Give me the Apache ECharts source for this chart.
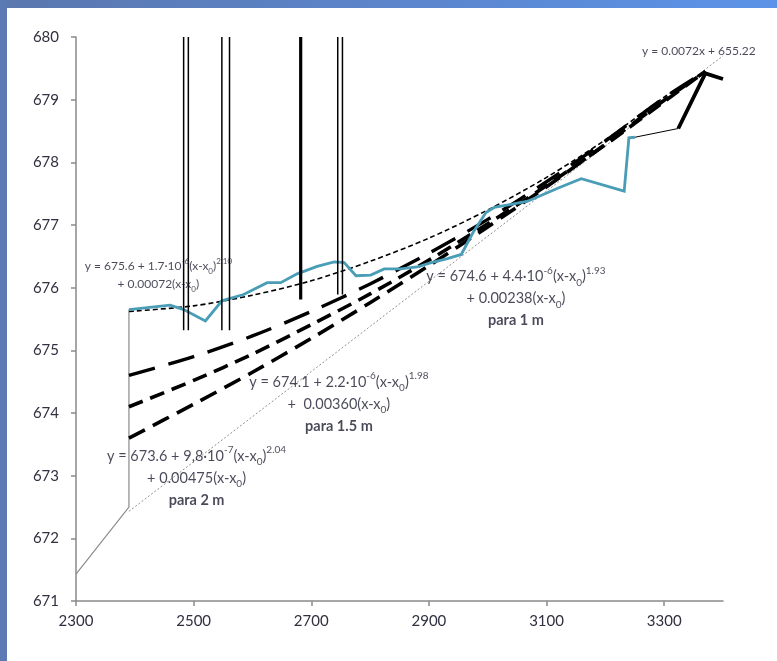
<!DOCTYPE html>
<html>
<head>
<meta charset="utf-8">
<script src="https://cdn.jsdelivr.net/npm/echarts@6/dist/echarts.min.js"></script>
<style>
html,body{margin:0;padding:0;background:#fff;}
#wrap{position:relative;width:777px;height:661px;overflow:hidden;background:#fff;}
#topbar{position:absolute;left:0;top:0;width:777px;height:8px;background:linear-gradient(to right,#5b77ae,#5c93e8);}
#leftbar{position:absolute;left:0;top:0;width:7px;height:661px;background:#5b79b2;}
#chart{position:absolute;left:0;top:0;width:777px;height:661px;}
</style>
</head>
<body>
<div id="wrap"><div id="topbar"></div><div id="leftbar"></div><div id="chart"></div></div>
<script>
// ---- data ----
const xTickValues = [2300, 2500, 2700, 2900, 3100, 3300];
const yMin = 671, yMax = 680;

const terrain = [
  [2390,675.65],[2460,675.72],[2483,675.65],[2520,675.47],[2548,675.79],[2585,675.89],
  [2625,676.08],[2648,676.08],[2676,676.22],[2710,676.34],[2739,676.41],[2756,676.40],
  [2776,676.19],[2801,676.20],[2824,676.30],[2852,676.30],[2880,676.33],[2904,676.40],
  [2930,676.46],[2955,676.53],[2975,676.88],[2997,677.20],[3011,677.28],[3040,677.33],
  [3068,677.38],[3120,677.59],[3159,677.74],[3232,677.54],[3240,678.39],[3250,678.40]
];
const terrainLink = [[3250,678.40],[3324,678.54]];
const terrainEnd = [[3324,678.54],[3370,679.42],[3400,679.33]];
const upstream = [[2300,671.43],[2390,672.50],[2390,675.65]];
const trend = [[2390,672.43],[3400,679.70]];

const curveTop = [[2390,675.62],[2500,675.71],[2600,675.88],[2700,676.11],[2800,676.42],[2900,676.79],[3000,677.24],[3100,677.76],[3200,678.36],[3300,679.04],[3370,679.45]];
const curve1m  = [[2390,674.60],[2500,674.90],[2600,675.23],[2700,675.62],[2800,676.06],[2900,676.55],[3000,677.09],[3100,677.69],[3200,678.34],[3300,679.03],[3370,679.45]];
const curve15m = [[2390,674.10],[2500,674.52],[2600,674.94],[2700,675.41],[2800,675.90],[2900,676.44],[3000,677.02],[3100,677.63],[3200,678.28],[3300,678.97],[3370,679.45]];
const curve2m  = [[2390,673.60],[2500,674.14],[2600,674.65],[2700,675.19],[2800,675.76],[2900,676.35],[3000,676.97],[3100,677.61],[3200,678.29],[3300,678.99],[3370,679.45]];

const pierThinX = [2483, 2491, 2548, 2561, 2745, 2753];
const pierThinBottom = [675.32, 675.32, 675.32, 675.32, 675.89, 675.89];
const pierThickX = [2682];
const pierThickBottom = [675.81];

const labelTopText = '{t|y = 675.6 + 1.7·10}{sup|-6}{t|(x-x}{sub|0}{t|)}{sup|2.10}\n{t|+ 0.00072(x-x}{sub|0}{t|)}';
const label1mText = '{t|y = 674.6 + 4.4·10}{sup|-6}{t|(x-x}{sub|0}{t|)}{sup|1.93}\n{t|+ 0.00238(x-x}{sub|0}{t|)}\n{b|para 1 m}';
const label15mText = '{t|y = 674.1 + 2.2·10}{sup|-6}{t|(x-x}{sub|0}{t|)}{sup|1.98}\n{t|+  0.00360(x-x}{sub|0}{t|)}\n{b|para 1.5 m}';
const label2mText = '{t|y = 673.6 + 9,8·10}{sup|-7}{t|(x-x}{sub|0}{t|)}{sup|2.04}\n{t|+ 0.00475(x-x}{sub|0}{t|)}\n{b|para 2 m}';
const trendText = 'y = 0.0072x + 655.22';

// ---- chart ----
const FONT = 'Lato, "Open Sans", sans-serif';
const TXT = '#1c1c30';

function richSet(fs, lh) {
  const s = Math.round(fs * 0.68);
  return {
    t: {fontSize: fs, lineHeight: lh, color: TXT, fontFamily: FONT, verticalAlign: 'middle'},
    sup: {fontSize: s, lineHeight: s + 1, color: TXT, fontFamily: FONT, verticalAlign: 'top'},
    sub: {fontSize: s, lineHeight: s + 1, color: TXT, fontFamily: FONT, verticalAlign: 'bottom'},
    b: {fontSize: fs, lineHeight: lh, color: TXT, fontFamily: FONT, fontWeight: 'bold', verticalAlign: 'middle'}
  };
}

function lineSeries(data, color, width, type, extra) {
  return Object.assign({
    type: 'line', data: data, symbol: 'none', silent: true, animation: false,
    lineStyle: {color: color, width: width, type: type, cap: 'butt', join: 'miter'},
    z: 2
  }, extra || {});
}

function labelSeries(pt, text, fs, lh) {
  return {
    type: 'scatter', data: [pt], symbolSize: 0, silent: true, animation: false, z: 10,
    label: {show: true, position: 'inside', align: 'center', verticalAlign: 'middle',
            formatter: text, rich: richSet(fs, lh)}
  };
}

const series = [];
series.push(lineSeries(upstream, '#8a8a8a', 1.2, 'solid'));
series.push(lineSeries(trend, '#8f8f8f', 1, [2, 2]));
series.push(lineSeries(curveTop, '#000', 1.6, [5, 3], {smooth: 0.3}));
series.push(lineSeries(curve2m, '#000', 3.6, [18, 9], {smooth: 0.3}));
series.push(lineSeries(curve15m, '#000', 3.6, [15, 8], {smooth: 0.3}));
series.push(lineSeries(curve1m, '#000', 3.4, [27, 14], {smooth: 0.3}));
series.push(lineSeries(terrain, '#4a9db6', 2.8, 'solid', {z: 3}));
series.push(lineSeries(terrainLink, '#000', 1, 'solid', {z: 3}));
series.push(lineSeries(terrainEnd, '#000', 3.8, 'solid', {z: 3}));
pierThinX.forEach((x, i) => series.push(lineSeries([[x, yMax], [x, pierThinBottom[i]]], '#000', 1.5, 'solid', {z: 4})));
pierThickX.forEach((x, i) => series.push(lineSeries([[x, yMax], [x, pierThickBottom[i]]], '#000', 3.2, 'solid', {z: 4})));

series.push(labelSeries([2440, 676.20], labelTopText, 12, 18));
series.push(labelSeries([3048, 675.83], label1mText, 14.5, 22));
series.push(labelSeries([2747, 674.14], label15mText, 14.5, 22));
series.push(labelSeries([2505, 672.96], label2mText, 14.5, 22));
series.push({
  type: 'scatter', data: [[3359, 679.77]], symbolSize: 0, silent: true, animation: false, z: 10,
  label: {show: true, position: 'inside', formatter: trendText, fontSize: 12, color: TXT, fontFamily: FONT}
});

const axisLineStyle = {color: '#8a8a8a', width: 1.5};
const option = {
  animation: false,
  grid: {left: 76, top: 37, right: 54, bottom: 60, containLabel: false},
  xAxis: {
    type: 'value', min: 2300, max: 3400,
    axisLine: {show: true, onZero: false, lineStyle: axisLineStyle},
    axisTick: {show: true, inside: false, length: 5, lineStyle: axisLineStyle, customValues: xTickValues},
    axisLabel: {fontSize: 15, color: '#303040', fontFamily: FONT, margin: 13, customValues: xTickValues,
                formatter: v => String(v)},
    splitLine: {show: false}
  },
  yAxis: {
    type: 'value', min: yMin, max: yMax, interval: 1,
    axisLine: {show: true, onZero: false, lineStyle: axisLineStyle},
    axisTick: {show: true, inside: false, length: 5, lineStyle: axisLineStyle},
    axisLabel: {fontSize: 15, color: '#303040', fontFamily: FONT, margin: 17, formatter: v => String(v)},
    splitLine: {show: false}
  },
  series: series
};

const chart = echarts.init(document.getElementById('chart'), null, {renderer: 'canvas'});
chart.setOption(option);
</script>
</body>
</html>
